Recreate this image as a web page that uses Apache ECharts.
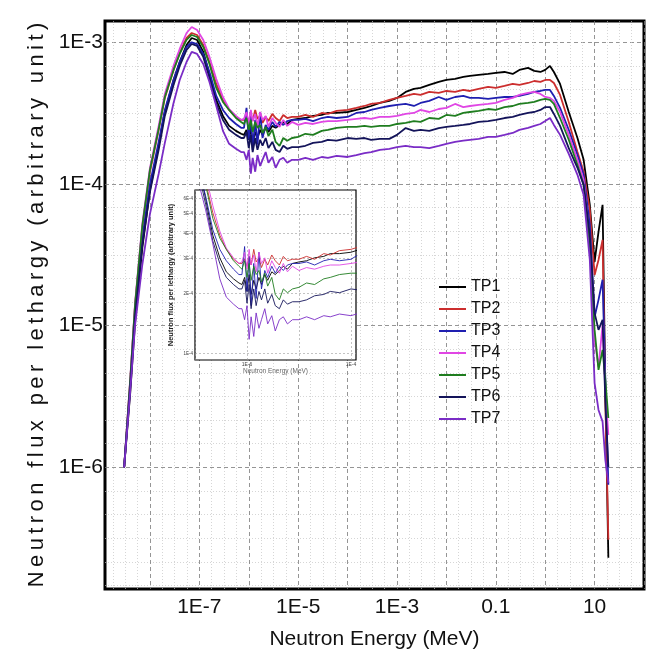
<!DOCTYPE html>
<html>
<head>
<meta charset="utf-8">
<script src="https://cdn.jsdelivr.net/npm/echarts@6/dist/echarts.min.js"></script>
<style>
html,body{margin:0;padding:0;background:#fff;}
#chart{width:657px;height:666px;}
</style>
</head>
<body>
<div id="chart"></div>
<script>
// neutron energy grid (MeV), shared by all seven curves
var energies = [3e-9, 4e-9, 5e-9, 7e-9, 1e-8, 1.5e-8, 2e-8, 3e-8, 4e-8, 5.5e-8,
  7e-8, 9e-8, 1.2e-7, 1.6e-7, 2.2e-7, 3e-7, 4e-7, 5.5e-7, 7e-7, 8e-7,
  9e-7, 1e-6, 1.1e-6, 1.2e-6, 1.35e-6, 1.5e-6, 1.7e-6, 1.9e-6, 2.2e-6, 2.5e-6,
  3e-6, 3.5e-6, 4.2e-6, 5e-6, 6e-6, 7.5e-6, 1e-5, 1.4e-5, 2e-5, 3e-5,
  4e-5, 6e-5, 1e-4, 1.5e-4, 2.2e-4, 3e-4, 4.5e-4, 7e-4, 1e-3, 1.5e-3,
  2.2e-3, 3e-3, 4.5e-3, 7e-3, 1e-2, 1.5e-2, 2.2e-2, 3e-2, 4.5e-2, 7e-2,
  0.1, 0.15, 0.22, 0.3, 0.45, 0.6, 0.8, 1.0, 1.25, 1.5,
  2.0, 3.0, 4.5, 6.0, 8.0, 10, 12, 14.5, 16.5, 19];

var tp1 = [1.0e-6, 3.41e-6, 1.06e-5, 3.54e-5, 9.08e-5, 1.86e-4, 3.22e-4, 5.42e-4, 7.26e-4, 9.57e-4, 1.072e-3,
  1.038e-3, 8.55e-4, 5.98e-4, 3.92e-4, 3.02e-4, 2.57e-4, 2.37e-4, 2.26e-4,
  2.22e-4, 2.41e-4, 2.05e-4, 2.49e-4, 1.98e-4, 2.33e-4, 2.11e-4, 2.41e-4, 2.22e-4, 2.49e-4, 2.33e-4, 2.57e-4, 2.49e-4, 2.61e-4, 2.74e-4, 2.65e-4, 2.83e-4,
  2.88e-4, 2.92e-4, 3.02e-4, 3.07e-4, 3.17e-4, 3.17e-4, 3.22e-4, 3.33e-4, 3.44e-4, 3.55e-4, 3.73e-4, 3.86e-4, 4.05e-4,
  4.46e-4, 4.69e-4, 4.76e-4, 5.00e-4, 5.25e-4, 5.42e-4, 5.51e-4, 5.69e-4, 5.79e-4, 5.88e-4, 5.98e-4, 6.08e-4, 6.17e-4, 5.98e-4, 6.38e-4, 6.59e-4, 6.28e-4, 6.17e-4, 6.38e-4,
  6.81e-4, 6.17e-4, 5.08e-4, 3.22e-4, 2.11e-4, 1.48e-4, 7.12e-5, 2.82e-5, 4.59e-5, 7.12e-5, 3.52e-6, 2.30e-7];

var tp2 = [1.0e-6, 4.14e-6, 1.40e-5, 4.90e-5, 1.22e-4, 2.41e-4, 4.05e-4, 6.38e-4, 8.41e-4, 1.072e-3, 1.163e-3,
  1.126e-3, 9.57e-4, 7.26e-4, 5.08e-4, 3.92e-4, 3.33e-4, 2.97e-4, 2.83e-4,
  2.83e-4, 2.97e-4, 2.74e-4, 3.07e-4, 2.78e-4, 3.33e-4, 2.88e-4, 3.02e-4, 2.70e-4, 2.97e-4, 2.78e-4, 3.12e-4, 2.92e-4, 2.78e-4, 3.07e-4, 2.92e-4, 2.97e-4,
  2.97e-4, 3.07e-4, 2.97e-4, 3.17e-4, 3.12e-4, 3.28e-4, 3.33e-4, 3.44e-4, 3.55e-4, 3.67e-4, 3.73e-4, 3.92e-4, 4.05e-4,
  4.18e-4, 4.32e-4, 4.25e-4, 4.46e-4, 4.39e-4, 4.53e-4, 4.46e-4, 4.61e-4, 4.53e-4, 4.69e-4, 4.84e-4, 4.76e-4, 4.92e-4, 5.08e-4, 5.00e-4, 5.16e-4, 5.33e-4, 5.25e-4, 5.42e-4,
  5.42e-4, 5.16e-4, 4.25e-4, 2.74e-4, 1.68e-4, 1.22e-4, 6.56e-5, 2.28e-5, 2.91e-5, 4.03e-5, 2.99e-6, 3.08e-7];

var tp3 = [1.0e-6, 3.88e-6, 1.25e-5, 4.16e-5, 1.00e-4, 1.98e-4, 3.33e-4, 5.42e-4, 7.26e-4, 9.26e-4, 1.0e-3,
  9.72e-4, 8.27e-4, 6.17e-4, 4.18e-4, 3.33e-4, 2.92e-4, 2.65e-4, 2.49e-4,
  2.49e-4, 3.44e-4, 2.05e-4, 3.07e-4, 1.74e-4, 2.83e-4, 1.89e-4, 3.22e-4, 2.11e-4, 2.61e-4, 2.41e-4, 2.74e-4, 2.53e-4, 2.74e-4, 2.61e-4, 2.78e-4, 2.83e-4,
  2.83e-4, 2.88e-4, 2.78e-4, 2.92e-4, 2.97e-4, 2.92e-4, 2.97e-4, 3.17e-4, 3.22e-4, 3.33e-4, 3.44e-4, 3.55e-4, 3.61e-4,
  3.67e-4, 3.55e-4, 3.73e-4, 3.86e-4, 4.11e-4, 3.92e-4, 4.11e-4, 4.18e-4, 4.05e-4, 4.05e-4, 3.98e-4, 4.05e-4, 4.11e-4, 4.11e-4, 4.18e-4, 4.32e-4, 4.46e-4, 4.53e-4, 4.61e-4,
  4.61e-4, 4.18e-4, 3.44e-4, 2.41e-4, 1.60e-4, 1.16e-4, 5.14e-5, 1.15e-5, 1.52e-5, 2.11e-5, 4.14e-6, 7.53e-7];

var tp4 = [1.0e-6, 4.28e-6, 1.45e-5, 5.22e-5, 1.30e-4, 2.57e-4, 4.32e-4, 6.81e-4, 8.97e-4, 1.163e-3, 1.282e-3,
  1.221e-3, 1.038e-3, 7.88e-4, 5.51e-4, 4.11e-4, 3.38e-4, 3.02e-4, 2.83e-4,
  2.88e-4, 3.22e-4, 2.65e-4, 3.33e-4, 2.78e-4, 3.12e-4, 2.57e-4, 3.22e-4, 2.83e-4, 3.02e-4, 2.53e-4, 2.92e-4, 2.70e-4, 2.53e-4, 2.83e-4, 2.57e-4, 2.74e-4,
  2.61e-4, 2.70e-4, 2.65e-4, 2.74e-4, 2.78e-4, 2.78e-4, 2.83e-4, 2.88e-4, 2.92e-4, 2.88e-4, 2.97e-4, 2.97e-4, 3.02e-4,
  3.12e-4, 3.17e-4, 3.33e-4, 3.22e-4, 3.38e-4, 3.44e-4, 3.67e-4, 3.49e-4, 3.55e-4, 3.61e-4, 3.67e-4, 3.73e-4, 3.92e-4, 4.05e-4, 4.25e-4, 4.39e-4, 4.46e-4, 4.32e-4, 4.11e-4,
  4.05e-4, 3.86e-4, 3.22e-4, 2.22e-4, 1.48e-4, 1.07e-4, 4.03e-5, 7.93e-6, 5.11e-6, 1.01e-5, 3.52e-6, 1.69e-6];

var tp5 = [1.0e-6, 4.21e-6, 1.42e-5, 5.06e-5, 1.26e-4, 2.45e-4, 4.11e-4, 6.38e-4, 8.27e-4, 1.038e-3, 1.126e-3,
  1.09e-3, 9.26e-4, 7.03e-4, 4.76e-4, 3.79e-4, 3.33e-4, 2.92e-4, 2.74e-4,
  2.65e-4, 2.92e-4, 2.41e-4, 2.83e-4, 2.33e-4, 2.74e-4, 2.49e-4, 2.61e-4, 2.29e-4, 2.53e-4, 2.18e-4, 2.41e-4, 1.98e-4, 1.86e-4, 2.11e-4, 2.02e-4, 2.11e-4,
  2.15e-4, 2.26e-4, 2.22e-4, 2.37e-4, 2.41e-4, 2.49e-4, 2.53e-4, 2.53e-4, 2.57e-4, 2.53e-4, 2.57e-4, 2.57e-4, 2.65e-4,
  2.70e-4, 2.78e-4, 2.74e-4, 2.92e-4, 2.88e-4, 3.07e-4, 3.02e-4, 3.17e-4, 3.22e-4, 3.28e-4, 3.38e-4, 3.33e-4, 3.49e-4, 3.55e-4, 3.67e-4, 3.73e-4, 3.79e-4, 3.92e-4, 3.98e-4,
  3.92e-4, 3.67e-4, 2.92e-4, 2.05e-4, 1.36e-4, 9.85e-5, 3.72e-5, 9.33e-6, 4.87e-6, 6.74e-6, 4.14e-6, 2.23e-6];

var tp6 = [1.0e-6, 3.76e-6, 1.17e-5, 3.72e-5, 8.79e-5, 1.74e-4, 3.02e-4, 5.00e-4, 6.81e-4, 8.83e-4, 9.72e-4,
  9.42e-4, 7.88e-4, 5.60e-4, 3.67e-4, 2.83e-4, 2.41e-4, 2.22e-4, 2.11e-4,
  2.11e-4, 2.33e-4, 1.79e-4, 2.22e-4, 1.68e-4, 2.11e-4, 1.74e-4, 2.05e-4, 1.86e-4, 2.11e-4, 1.79e-4, 1.98e-4, 1.74e-4, 1.68e-4, 1.86e-4, 1.77e-4, 1.82e-4,
  1.82e-4, 1.86e-4, 1.95e-4, 1.98e-4, 2.05e-4, 2.02e-4, 2.11e-4, 2.08e-4, 2.11e-4, 2.05e-4, 2.08e-4, 2.08e-4, 2.22e-4,
  2.48e-4, 2.37e-4, 2.41e-4, 2.37e-4, 2.48e-4, 2.53e-4, 2.57e-4, 2.61e-4, 2.65e-4, 2.74e-4, 2.78e-4, 2.83e-4, 2.92e-4, 2.97e-4, 3.07e-4, 3.17e-4, 3.22e-4, 3.33e-4, 3.49e-4,
  3.49e-4, 3.12e-4, 2.57e-4, 1.79e-4, 1.30e-4, 9.85e-5, 4.37e-5, 1.23e-5, 9.33e-6, 1.10e-5, 2.99e-6, 1.0e-6];

var tp7 = [1.0e-6, 3.52e-6, 1.01e-5, 2.69e-5, 6.15e-5, 1.18e-4, 1.95e-4, 3.73e-4, 5.42e-4, 7.26e-4, 8.55e-4,
  8.27e-4, 7.03e-4, 5.25e-4, 3.55e-4, 2.37e-4, 1.92e-4, 1.77e-4, 1.68e-4,
  1.68e-4, 1.48e-4, 1.74e-4, 1.18e-4, 1.53e-4, 1.22e-4, 1.60e-4, 1.34e-4, 1.48e-4, 1.68e-4, 1.41e-4, 1.55e-4, 1.30e-4, 1.48e-4, 1.53e-4, 1.41e-4, 1.48e-4,
  1.48e-4, 1.53e-4, 1.48e-4, 1.55e-4, 1.53e-4, 1.58e-4, 1.55e-4, 1.60e-4, 1.65e-4, 1.68e-4, 1.74e-4, 1.77e-4, 1.82e-4,
  1.86e-4, 1.82e-4, 1.82e-4, 1.79e-4, 1.86e-4, 1.92e-4, 1.98e-4, 2.02e-4, 2.05e-4, 2.08e-4, 2.15e-4, 2.15e-4, 2.22e-4, 2.29e-4, 2.41e-4, 2.49e-4, 2.57e-4, 2.65e-4, 2.78e-4,
  2.92e-4, 2.61e-4, 2.22e-4, 1.63e-4, 1.16e-4, 8.37e-5, 2.91e-5, 3.93e-6, 2.54e-6, 2.10e-6, 1.13e-6, 7.78e-7];

var seriesNames = ['TP1', 'TP2', 'TP3', 'TP4', 'TP5', 'TP6', 'TP7'];
var seriesValues = [tp1, tp2, tp3, tp4, tp5, tp6, tp7];
var seriesColors = ['#000000', '#cc2e2e', '#1f1fb0', '#e046e4', '#1f7d1f', '#14145a', '#7a2cc6'];

// axis ticks and labels
var xGridValues = [1e-8, 1e-7, 1e-6, 1e-5, 1e-4, 1e-3, 1e-2, 0.1, 1, 10, 100];
var xLabelValues = [1e-7, 1e-5, 1e-3, 0.1, 10];
var xLabelTexts = ['1E-7', '1E-5', '1E-3', '0.1', '10'];
var yGridValues = [1e-6, 1e-5, 1e-4, 1e-3];
var yLabelTexts = ['1E-6', '1E-5', '1E-4', '1E-3'];
var insetXGridValues = [1e-7, 1e-6, 1e-5, 1e-4];
var insetXLabelValues = [1e-6, 1e-4];
var insetXLabelTexts = ['1E-6', '1E-4'];
var insetYGridValues = [1e-4, 2e-4, 3e-4, 4e-4, 5e-4, 6e-4];
var insetYLabelTexts = ['1E-4', '2E-4', '3E-4', '4E-4', '5E-4', '6E-4'];

var NARROW = "'Liberation Sans Narrow','Liberation Sans',Arial,sans-serif";
var SANS = "'Liberation Sans',Arial,sans-serif";

function pairs(vals) {
  return energies.map(function (e, i) { return [e, vals[i]]; });
}
function labeler(values, texts) {
  return function (v) {
    for (var i = 0; i < values.length; i++) {
      if (Math.abs(Math.log10(v) - Math.log10(values[i])) < 1e-6) return texts[i];
    }
    return '';
  };
}
// dotted minor grid, evenly spaced inside each decade
function minorLevels(lo, hi, steps) {
  var out = [];
  for (var d = lo; d < hi; d++) {
    for (var k = 1; k < steps; k++) out.push(Math.pow(10, d + k / steps));
  }
  return out;
}

var X_MIN = 1.23e-9, X_MAX = 100, Y_MIN = 1.384e-7, Y_MAX = 1.413e-3;
var dashed = {color: '#7a7a7a', type: [4, 3], width: 0.8};
var dotted = {color: '#c4c4c4', type: [1, 2], width: 0.7};
var yTitle = 'Neutron flux per lethargy (arbitrary unit)'.split('').join('\u2009');

var series = [];
seriesNames.forEach(function (name, i) {
  series.push({
    name: name, type: 'line', xAxisIndex: 0, yAxisIndex: 0,
    data: pairs(seriesValues[i]), symbol: 'none', showSymbol: false,
    lineStyle: {color: seriesColors[i], width: 1.8}, itemStyle: {color: seriesColors[i]},
    z: 3, animation: false
  });
});
seriesNames.forEach(function (name, i) {
  series.push({
    name: name, type: 'line', xAxisIndex: 2, yAxisIndex: 2,
    data: pairs(seriesValues[i]), symbol: 'none', showSymbol: false, clip: true,
    lineStyle: {color: seriesColors[i], width: 0.9}, itemStyle: {color: seriesColors[i]},
    z: 9, animation: false
  });
});

var option = {
  backgroundColor: '#fff',
  animation: false,
  grid: [
    {left: 105, top: 21, right: 13, bottom: 77, show: true, borderColor: '#000', borderWidth: 3, backgroundColor: 'transparent'},
    {left: 195, top: 190, width: 161, height: 170, show: true, borderColor: '#000', borderWidth: 1.2, backgroundColor: '#fff', z: 5}
  ],
  legend: {
    data: seriesNames, orient: 'vertical', left: 439, top: 279, padding: 0,
    icon: 'rect', itemWidth: 27, itemHeight: 2, itemGap: 6,
    textStyle: {fontFamily: NARROW, fontSize: 16, color: '#111', lineHeight: 16}
  },
  xAxis: [
    {
      gridIndex: 0, type: 'log', min: X_MIN, max: X_MAX,
      axisLine: {show: false}, axisTick: {show: false, customValues: xGridValues},
      axisLabel: {customValues: xLabelValues, formatter: labeler(xLabelValues, xLabelTexts), margin: 8,
        fontFamily: NARROW, fontSize: 21, color: '#111'},
      splitLine: {show: true, lineStyle: dashed},
      name: 'Neutron Energy (MeV)', nameLocation: 'middle', nameGap: 40,
      nameTextStyle: {fontFamily: SANS, fontSize: 21, color: '#111'}
    },
    {
      gridIndex: 0, type: 'log', min: X_MIN, max: X_MAX,
      axisLine: {show: false}, axisTick: {show: false, customValues: minorLevels(-9, 2, 4)},
      axisLabel: {show: false}, splitLine: {show: true, lineStyle: dotted}
    },
    {
      gridIndex: 1, type: 'log', min: 1e-7, max: 1.25e-4, z: 6,
      axisLine: {show: false}, axisTick: {show: false, customValues: insetXGridValues},
      axisLabel: {customValues: insetXLabelValues, formatter: labeler(insetXLabelValues, insetXLabelTexts),
        margin: 2, fontFamily: NARROW, fontSize: 5, color: '#444'},
      splitLine: {show: true, lineStyle: {color: '#9a9a9a', type: [2, 2], width: 0.6}},
      name: 'Neutron Energy (MeV)', nameLocation: 'middle', nameGap: 8,
      nameTextStyle: {fontFamily: NARROW, fontSize: 6.5, color: '#666'}
    }
  ],
  yAxis: [
    {
      gridIndex: 0, type: 'log', min: Y_MIN, max: Y_MAX,
      axisLine: {show: false}, axisTick: {show: false, customValues: yGridValues},
      axisLabel: {customValues: yGridValues, formatter: labeler(yGridValues, yLabelTexts), margin: 2,
        fontFamily: NARROW, fontSize: 21, color: '#111'},
      splitLine: {show: true, lineStyle: dashed},
      name: yTitle, nameLocation: 'middle', nameGap: 57, nameRotate: 90,
      nameTextStyle: {fontFamily: SANS, fontSize: 22, color: '#111'}
    },
    {
      gridIndex: 0, type: 'log', min: Y_MIN, max: Y_MAX,
      axisLine: {show: false}, axisTick: {show: false, customValues: minorLevels(-7, -2, 6)},
      axisLabel: {show: false}, splitLine: {show: true, lineStyle: dotted}
    },
    {
      gridIndex: 1, type: 'log', min: 9.3e-5, max: 6.6e-4, z: 6,
      axisLine: {show: false}, axisTick: {show: false, customValues: insetYGridValues},
      axisLabel: {customValues: insetYGridValues, formatter: labeler(insetYGridValues, insetYLabelTexts),
        margin: 2, fontFamily: NARROW, fontSize: 4.5, color: '#444'},
      splitLine: {show: true, lineStyle: {color: '#9a9a9a', type: [2, 2], width: 0.6}},
      name: 'Neutron flux per lethargy (arbitrary unit)', nameLocation: 'middle', nameGap: 20, nameRotate: 90,
      nameTextStyle: {fontFamily: SANS, fontSize: 7.5, fontWeight: 'bold', color: '#222'}
    }
  ],
  series: series
};

var myChart = echarts.init(document.getElementById('chart'));
myChart.setOption(option);
</script>
</body>
</html>
